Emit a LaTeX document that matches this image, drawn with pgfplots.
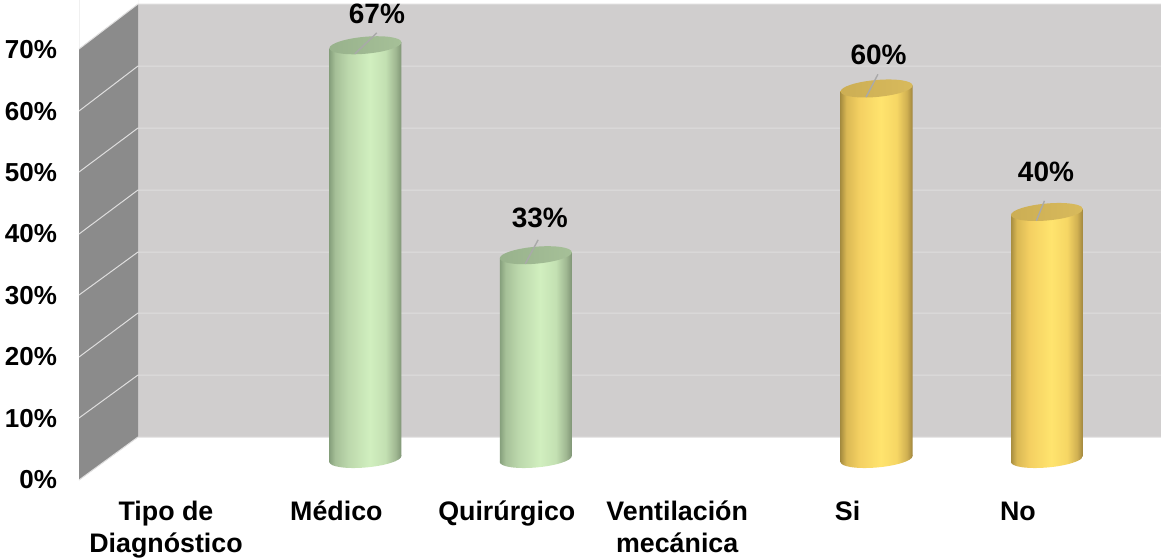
\documentclass[border=0pt]{standalone}
\usepackage{fontspec}
\setmainfont{Liberation Sans}
\usepackage{pgfplots}
\usepackage{pgfplotstable}
\pgfplotsset{compat=1.18}

\definecolor{wallback}{HTML}{D0CECE}
\definecolor{wallside}{HTML}{8B8B8B}
\definecolor{gridline}{HTML}{DFDEDE}
\definecolor{leader}{HTML}{A9A9A9}

% Cylinder bodies: the 25bp to 75bp span is what reaches the bar width
\pgfdeclarehorizontalshading{greenbody}{100bp}{
  color(0bp)=(rgb,255:red,134;green,160;blue,124);
  color(25bp)=(rgb,255:red,134;green,160;blue,124);
  color(29bp)=(rgb,255:red,166;green,192;blue,152);
  color(38bp)=(rgb,255:red,188;green,216;blue,172);
  color(53bp)=(rgb,255:red,209;green,239;blue,191);
  color(64bp)=(rgb,255:red,195;green,224;blue,178);
  color(71bp)=(rgb,255:red,160;green,184;blue,146);
  color(75bp)=(rgb,255:red,128;green,150;blue,118);
  color(100bp)=(rgb,255:red,128;green,150;blue,118)}
\pgfdeclarehorizontalshading{goldbody}{100bp}{
  color(0bp)=(rgb,255:red,168;green,142;blue,64);
  color(25bp)=(rgb,255:red,168;green,142;blue,64);
  color(29bp)=(rgb,255:red,218;green,184;blue,84);
  color(38bp)=(rgb,255:red,244;green,208;blue,98);
  color(53bp)=(rgb,255:red,255;green,228;blue,110);
  color(64bp)=(rgb,255:red,246;green,214;blue,100);
  color(71bp)=(rgb,255:red,208;green,176;blue,82);
  color(75bp)=(rgb,255:red,160;green,134;blue,62);
  color(100bp)=(rgb,255:red,160;green,134;blue,62)}
\pgfdeclarehorizontalshading{greencap}{100bp}{
  color(0bp)=(rgb,255:red,152;green,178;blue,140);
  color(25bp)=(rgb,255:red,152;green,178;blue,140);
  color(75bp)=(rgb,255:red,166;green,192;blue,152);
  color(100bp)=(rgb,255:red,166;green,192;blue,152)}
\pgfdeclarehorizontalshading{goldcap}{100bp}{
  color(0bp)=(rgb,255:red,204;green,174;blue,84);
  color(25bp)=(rgb,255:red,204;green,174;blue,84);
  color(75bp)=(rgb,255:red,216;green,186;blue,92);
  color(100bp)=(rgb,255:red,216;green,186;blue,92)}

% Tilted ellipses closing the cylinders at both ends
\newcommand{\tiltedellipse}{%
  \pgfpathellipse{\pgfqpoint{0pt}{0pt}}{\pgfqpoint{36pt}{3pt}}{\pgfqpoint{0pt}{8.5pt}}}
\pgfdeclareplotmark{greentop}{\tiltedellipse\pgfshadepath{greencap}{0}\pgfusepath{discard}}
\pgfdeclareplotmark{goldtop}{\tiltedellipse\pgfshadepath{goldcap}{0}\pgfusepath{discard}}
\pgfdeclareplotmark{greenbase}{\tiltedellipse\pgfshadepath{greenbody}{0}\pgfusepath{discard}}
\pgfdeclareplotmark{goldbase}{\tiltedellipse\pgfshadepath{goldbody}{0}\pgfusepath{discard}}

% Columns: position, share, leader offset (u,v), label offset in pt
\pgfplotstableread{
x y u v dx dy
1 67 0.129 3.40 11.5 31
}\barmedico
\pgfplotstableread{
x y u v dx dy
2 33 0.076 3.90 4 37
}\barquirurgico
\pgfplotstableread{
x y u v dx dy
4 60 0.070 3.70 2 34
}\barsi
\pgfplotstableread{
x y u v dx dy
5 40 0.047 3.20 -1 40
}\barno

\pgfplotsset{
  plain layer/.style={
    scale only axis, width=1161pt, height=557pt, axis lines=none,
    clip=true},
}

% #1 table, #2 colour name, #3 and #4 body edges, #5 value, #6 and #7 the two
% ends of the body's upper edge, which follows the tilt of the cap
\newcommand{\cylinder}[7]{%
  \addplot[only marks, mark=#2base, forget plot] table[x=x, y expr=0] {#1};
  \addplot[shading=#2body, draw=none, mark=none, forget plot]
    coordinates {(#3,-0.6) (#3,#6) (#4,#7) (#4,0.5)} --cycle;
  \addplot[only marks, mark=#2top, forget plot] table[x=x, y=y] {#1};
  % leader line from the cap to the value label
  \addplot[forget plot, mark=none,
    quiver={u=\thisrow{u}, v=\thisrow{v},
      every arrow/.style={draw=leader, line width=1.4pt}}]
    table[x expr=\thisrow{x}-0.062, y expr=\thisrow{y}-1.4] {#1};
  \addplot[forget plot, draw=none, mark=none,
    visualization depends on={\thisrow{dx}\as\labdx},
    visualization depends on={\thisrow{dy}\as\labdy},
    nodes near coords={\pgfmathprintnumber[assume math mode=true]{\pgfplotspointmeta}\%},
    nodes near coords style={anchor=center, font=\fontsize{28}{32}\selectfont\bfseries,
      text=black, xshift=\labdx pt, yshift=\labdy pt},
    point meta=explicit]
    table[x=x, y=y, meta=y] {#1};
}

\begin{document}
\begin{tikzpicture}
\useasboundingbox (0,0) rectangle (1161pt,557pt);

% Chart walls and gridlines, in picture units
\begin{axis}[plain layer, xmin=0, xmax=1161, ymin=0, ymax=557, y dir=reverse]
  \addplot[fill=wallback, draw=none] coordinates {(138,4) (1161,4) (1161,437) (138,437)} \closedcycle;
  \addplot[fill=wallside, draw=none] coordinates {(79,49) (138,4) (138,437) (79,480)} \closedcycle;
  \addplot[draw=gridline, line width=1pt] coordinates {(79,49) (138,4) (1161,4)};
  \addplot[draw=gridline, line width=1pt] coordinates {(79,480) (138,437) (1161,437)};
  \addplot[draw=gridline, line width=1pt] coordinates {(79,111) (138,66) (1161,66)};
  \addplot[draw=gridline, line width=1pt] coordinates {(79,172) (138,128) (1161,128)};
  \addplot[draw=gridline, line width=1pt] coordinates {(79,234) (138,190) (1161,190)};
  \addplot[draw=gridline, line width=1pt] coordinates {(79,295) (138,252) (1161,252)};
  \addplot[draw=gridline, line width=1pt] coordinates {(79,357) (138,313) (1161,313)};
  \addplot[draw=gridline, line width=1pt] coordinates {(79,418) (138,375) (1161,375)};
\end{axis}

% Values on the category and percentage axes
\begin{axis}[
  scale only axis, width=1161pt, height=557pt,
  xmin=-1.1444, xmax=5.669, ymin=-15.87, ymax=74.33,
  axis line style={draw=none}, tick style={draw=none},
  xtick={0,1,2,3,4,5},
  xticklabels={{\strut Tipo de\\Diagnóstico},{\strut Médico},{\strut Quirúrgico},
               {\strut Ventilación\\mecánica},{\strut Si},{\strut No}},
  ytick={0,10,20,30,40,50,60,70},
  yticklabels={0\%,10\%,20\%,30\%,40\%,50\%,60\%,70\%},
  xticklabel style={align=center, anchor=north, inner sep=0pt, outer sep=0pt,
    font=\fontsize{26.8}{32}\selectfont\bfseries, xshift=-29pt, yshift=59.4pt},
  yticklabel style={anchor=east, inner sep=0pt, outer sep=0pt,
    font=\fontsize{26}{30}\selectfont\bfseries, xshift=57pt, yshift=-20.5pt-0.35pt*\ticknum},
  major tick length=0pt,
  xticklabel shift=0pt, yticklabel shift=0pt,
  clip=false, clip mode=individual,
]
  \cylinder{\barmedico}{green}{0.789}{1.211}{67}{66.5}{67.5}
  \cylinder{\barquirurgico}{green}{1.789}{2.211}{33}{32.5}{33.5}
  \cylinder{\barsi}{gold}{3.789}{4.211}{60}{59.5}{60.5}
  \cylinder{\barno}{gold}{4.789}{5.211}{40}{39.5}{40.5}
\end{axis}
\end{tikzpicture}
\end{document}
